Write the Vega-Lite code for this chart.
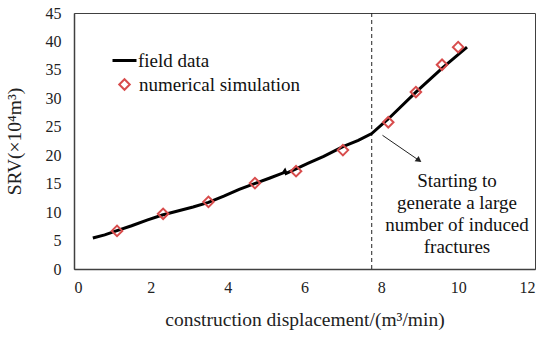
{
  "$schema": "https://vega.github.io/schema/vega-lite/v6.json",
  "autosize": {"type": "none"},
  "padding": {"left": 74, "top": 13, "right": 15, "bottom": 69},
  "width": 461,
  "height": 256,
  "background": "white",
  "config": {
    "font": "Liberation Serif",
    "view": {"stroke": "#404040", "strokeWidth": 1},
    "text": {"font": "Liberation Serif"},
    "legend": {"labelFont": "Liberation Serif", "labelLimit": 400},
    "axis": {"grid": false, "ticks": false, "tickSize": 0, "labelOverlap": false, "domainColor": "#404040", "domainWidth": 1.5, "labelFont": "Liberation Serif", "titleFont": "Liberation Serif", "labelColor": "#222", "titleColor": "#222", "labelFontSize": 16, "titleFontSize": 19.5, "titleFontWeight": "normal"}
  },
  "datasets": {
    "field": [
      {"x": 0.49, "y": 5.45, "s": "field data"},
      {"x": 0.8, "y": 6.0, "s": "field data"},
      {"x": 1.1, "y": 6.7, "s": "field data"},
      {"x": 1.5, "y": 7.6, "s": "field data"},
      {"x": 1.9, "y": 8.6, "s": "field data"},
      {"x": 2.3, "y": 9.5, "s": "field data"},
      {"x": 2.7, "y": 10.2, "s": "field data"},
      {"x": 3.1, "y": 10.9, "s": "field data"},
      {"x": 3.5, "y": 11.7, "s": "field data"},
      {"x": 3.9, "y": 12.8, "s": "field data"},
      {"x": 4.3, "y": 14.0, "s": "field data"},
      {"x": 4.7, "y": 15.0, "s": "field data"},
      {"x": 5.1, "y": 16.0, "s": "field data"},
      {"x": 5.45, "y": 16.9, "s": "field data"},
      {"x": 5.49, "y": 17.3, "s": "field data"},
      {"x": 5.52, "y": 16.8, "s": "field data"},
      {"x": 5.78, "y": 17.6, "s": "field data"},
      {"x": 6.1, "y": 18.6, "s": "field data"},
      {"x": 6.5, "y": 19.8, "s": "field data"},
      {"x": 7.0, "y": 21.5, "s": "field data"},
      {"x": 7.4, "y": 22.6, "s": "field data"},
      {"x": 7.75, "y": 23.8, "s": "field data"},
      {"x": 8.2, "y": 26.5, "s": "field data"},
      {"x": 8.9, "y": 31.1, "s": "field data"},
      {"x": 9.6, "y": 35.4, "s": "field data"},
      {"x": 10.23, "y": 39.0, "s": "field data"}
    ],
    "sim": [
      {"x": 1.12, "y": 6.7, "s": "numerical simulation"},
      {"x": 2.32, "y": 9.7, "s": "numerical simulation"},
      {"x": 3.5, "y": 11.8, "s": "numerical simulation"},
      {"x": 4.71, "y": 15.1, "s": "numerical simulation"},
      {"x": 5.78, "y": 17.2, "s": "numerical simulation"},
      {"x": 7.0, "y": 20.9, "s": "numerical simulation"},
      {"x": 8.18, "y": 25.8, "s": "numerical simulation"},
      {"x": 8.9, "y": 31.1, "s": "numerical simulation"},
      {"x": 9.58, "y": 35.9, "s": "numerical simulation"},
      {"x": 10.0, "y": 39.0, "s": "numerical simulation"}
    ],
    "vline": [{"x": 7.75}],
    "arrow": [{"x": 8.03, "y": 23.5, "x2": 9.0, "y2": 19.0}],
    "head": [{"x": 8.98, "y": 19.1}],
    "note": [{"x": 9.97, "y": 17.0, "t": "Starting to\ngenerate a large\nnumber of induced\nfractures"}]
  },
  "encoding": {
    "x": {"type": "quantitative", "scale": {"domain": [0, 12]}, "axis": {"values": [0, 2, 4, 6, 8, 10, 12], "labelPadding": 10, "title": "construction displacement/(m³/min)", "titlePadding": 15}},
    "y": {"type": "quantitative", "scale": {"domain": [0, 45]}, "axis": {"values": [0, 5, 10, 15, 20, 25, 30, 35, 40, 45], "labelPadding": 13, "title": "SRV(×10⁴m³)", "titlePadding": 21}}
  },
  "layer": [
    {
      "data": {"name": "vline"},
      "mark": {"type": "rule", "strokeDash": [4, 3], "strokeWidth": 1, "color": "#222"},
      "encoding": {
        "x": {"field": "x", "type": "quantitative"}
      }
    },
    {
      "data": {"name": "field"},
      "mark": {"type": "line", "strokeWidth": 3, "interpolate": "linear"},
      "encoding": {
        "x": {"field": "x", "type": "quantitative"},
        "y": {"field": "y", "type": "quantitative"},
        "color": {"field": "s", "type": "nominal", "scale": {"domain": ["field data"], "range": ["black"]},
          "legend": {"orient": "none", "legendX": 37, "legendY": 34, "title": null, "symbolType": "stroke", "symbolSize": 576, "symbolStrokeWidth": 3, "labelFontSize": 19, "labelColor": "#111", "labelOffset": 0, "padding": 0}}
      }
    },
    {
      "data": {"name": "sim"},
      "mark": {"type": "point", "shape": "diamond", "filled": false, "size": 110, "strokeWidth": 2, "color": "#d84c4c", "opacity": 1},
      "encoding": {
        "x": {"field": "x", "type": "quantitative"},
        "y": {"field": "y", "type": "quantitative"},
        "shape": {"field": "s", "type": "nominal", "scale": {"domain": ["numerical simulation"], "range": ["diamond"]},
          "legend": {"orient": "none", "legendX": 41, "legendY": 62, "title": null, "symbolSize": 110, "symbolStrokeWidth": 2, "symbolStrokeColor": "#d84c4c", "symbolFillColor": "transparent", "symbolOpacity": 1, "labelFontSize": 19, "labelColor": "#111", "labelOffset": 5, "padding": 0}}
      }
    },
    {
      "data": {"name": "arrow"},
      "mark": {"type": "rule", "strokeWidth": 1, "color": "#222"},
      "encoding": {
        "x": {"field": "x", "type": "quantitative"},
        "y": {"field": "y", "type": "quantitative"},
        "x2": {"field": "x2"},
        "y2": {"field": "y2"}
      }
    },
    {
      "data": {"name": "head"},
      "mark": {"type": "point", "shape": "triangle-right", "filled": true, "size": 45, "angle": 36, "color": "#222", "opacity": 1},
      "encoding": {
        "x": {"field": "x", "type": "quantitative"},
        "y": {"field": "y", "type": "quantitative"}
      }
    },
    {
      "data": {"name": "note"},
      "mark": {"type": "text", "lineBreak": "\n", "align": "center", "baseline": "top", "fontSize": 19, "lineHeight": 22, "color": "#111"},
      "encoding": {
        "x": {"field": "x", "type": "quantitative"},
        "y": {"field": "y", "type": "quantitative"},
        "text": {"field": "t"}
      }
    }
  ]
}
